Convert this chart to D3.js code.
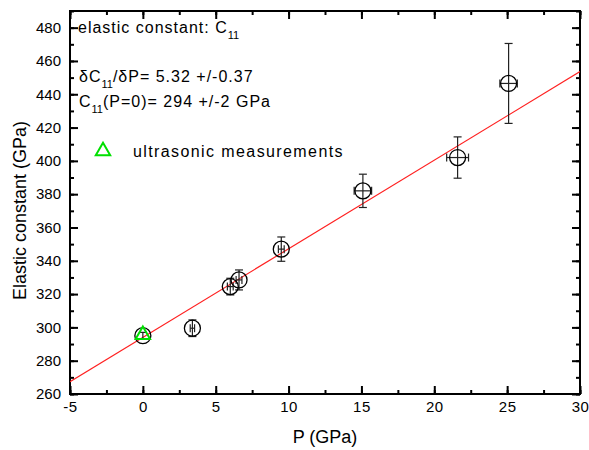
<!DOCTYPE html>
<html>
<head>
<meta charset="utf-8">
<script src="https://cdn.jsdelivr.net/npm/d3@7"></script>
<style>
  body { margin: 0; background: #fff; }
  text { font-family: "Liberation Sans", Arial, sans-serif; fill: #000; }
</style>
</head>
<body>
<script>
// measured points (circles)
const pressure = [0, 3.4, 6.0, 6.6, 9.5, 15.1, 21.6, 25.1];
const c11 = [295, 299.5, 324.5, 328.5, 347, 382, 402, 446.5];
const c11Err = [2, 5, 5, 6, 7.3, 10, 12.4, 24];
const pressureErr = [0, 0.15, 0.2, 0.2, 0.2, 0.6, 0.75, 0.6];
// ultrasonic point (triangle)
const ultraP = [0];
const ultraC = [295];
// linear fit
const fitSlope = 5.32;
const fitIntercept = 294;
const xTicks = [-5, 0, 5, 10, 15, 20, 25, 30];
const yTicks = [260, 280, 300, 320, 340, 360, 380, 400, 420, 440, 460, 480];

const width = 589, height = 450;
const margin = { left: 70, right: 9, top: 11, bottom: 56 };

const svg = d3.select("body").append("svg")
  .attr("width", width)
  .attr("height", height);

const x = d3.scaleLinear().domain([-5, 30]).range([margin.left, width - margin.right]);
const y = d3.scaleLinear().domain([260, 490]).range([height - margin.bottom, margin.top]);

const tickMajor = 8, tickMinor = 4;
const minorX = d3.range(-5, 30.01, 2.5);
const minorY = d3.range(260, 490.01, 10);
const fmt = d => String(d); // plain hyphen for negatives

// axes, ticks pointing inward on all four sides
svg.append("g")
  .attr("transform", `translate(0,${y(260)})`)
  .call(d3.axisBottom(x).tickValues(minorX).tickSize(-tickMinor).tickFormat(""))
  .call(g => g.select(".domain").remove());
svg.append("g")
  .attr("transform", `translate(0,${y(260)})`)
  .call(d3.axisBottom(x).tickValues(xTicks).tickSize(-tickMajor).tickPadding(7).tickFormat(fmt))
  .call(g => g.select(".domain").remove())
  .call(g => g.selectAll("text").attr("font-size", 15).attr("letter-spacing", 0.5));
svg.append("g")
  .attr("transform", `translate(0,${y(490)})`)
  .call(d3.axisTop(x).tickValues(minorX).tickSize(-tickMinor).tickFormat(""))
  .call(g => g.select(".domain").remove());
svg.append("g")
  .attr("transform", `translate(0,${y(490)})`)
  .call(d3.axisTop(x).tickValues(xTicks).tickSize(-tickMajor).tickFormat(""))
  .call(g => g.select(".domain").remove());

svg.append("g")
  .attr("transform", `translate(${x(-5)},0)`)
  .call(d3.axisLeft(y).tickValues(minorY).tickSize(-tickMinor).tickFormat(""))
  .call(g => g.select(".domain").remove());
svg.append("g")
  .attr("transform", `translate(${x(-5)},0)`)
  .call(d3.axisLeft(y).tickValues(yTicks).tickSize(-tickMajor).tickPadding(9).tickFormat(fmt))
  .call(g => g.select(".domain").remove())
  .call(g => g.selectAll("text").attr("font-size", 15));
svg.append("g")
  .attr("transform", `translate(${x(30)},0)`)
  .call(d3.axisRight(y).tickValues(minorY).tickSize(-tickMinor).tickFormat(""))
  .call(g => g.select(".domain").remove());
svg.append("g")
  .attr("transform", `translate(${x(30)},0)`)
  .call(d3.axisRight(y).tickValues(yTicks).tickSize(-tickMajor).tickFormat(""))
  .call(g => g.select(".domain").remove());

svg.selectAll(".tick line").attr("stroke", "#000").attr("stroke-width", 2);

// frame
svg.append("rect")
  .attr("x", x(-5))
  .attr("y", y(490))
  .attr("width", x(30) - x(-5))
  .attr("height", y(260) - y(490))
  .attr("fill", "none")
  .attr("stroke", "#000")
  .attr("stroke-width", 2);

// fit line
svg.append("clipPath").attr("id", "plot")
  .append("rect")
  .attr("x", x(-5)).attr("y", y(490))
  .attr("width", x(30) - x(-5)).attr("height", y(260) - y(490));

svg.append("line")
  .attr("clip-path", "url(#plot)")
  .attr("x1", x(-5))
  .attr("y1", y(fitIntercept + fitSlope * -5))
  .attr("x2", x(30))
  .attr("y2", y(fitIntercept + fitSlope * 30))
  .attr("stroke", "#ff2020")
  .attr("stroke-width", 1.2);

// error bars
const pts = pressure.map((p, i) => ({ p, c: c11[i], ce: c11Err[i], pe: pressureErr[i] }));
const cap = 4;
const err = svg.append("g").attr("stroke", "#222").attr("stroke-width", 1.2);
pts.forEach(d => {
  err.append("line") // vertical
    .attr("x1", x(d.p)).attr("x2", x(d.p))
    .attr("y1", y(d.c - d.ce)).attr("y2", y(d.c + d.ce));
  err.append("line")
    .attr("x1", x(d.p) - cap).attr("x2", x(d.p) + cap)
    .attr("y1", y(d.c - d.ce)).attr("y2", y(d.c - d.ce));
  err.append("line")
    .attr("x1", x(d.p) - cap).attr("x2", x(d.p) + cap)
    .attr("y1", y(d.c + d.ce)).attr("y2", y(d.c + d.ce));
  if (d.pe > 0) {
    err.append("line") // horizontal
      .attr("x1", x(d.p - d.pe)).attr("x2", x(d.p + d.pe))
      .attr("y1", y(d.c)).attr("y2", y(d.c));
    err.append("line")
      .attr("x1", x(d.p - d.pe)).attr("x2", x(d.p - d.pe))
      .attr("y1", y(d.c) - cap).attr("y2", y(d.c) + cap);
    err.append("line")
      .attr("x1", x(d.p + d.pe)).attr("x2", x(d.p + d.pe))
      .attr("y1", y(d.c) - cap).attr("y2", y(d.c) + cap);
  }
});

// circles
svg.append("g").selectAll("circle")
  .data(pts)
  .join("circle")
  .attr("cx", d => x(d.p))
  .attr("cy", d => y(d.c))
  .attr("r", 8)
  .attr("fill", "none")
  .attr("stroke", "#000")
  .attr("stroke-width", 1.3);

// ultrasonic triangle
const tri = d3.symbol().type(d3.symbolTriangle).size(90);
svg.append("g").selectAll("path")
  .data(ultraP.map((p, i) => ({ p, c: ultraC[i] })))
  .join("path")
  .attr("d", tri)
  .attr("transform", d => `translate(${x(d.p)},${y(d.c) - 1})`)
  .attr("fill", "none")
  .attr("stroke", "#00e000")
  .attr("stroke-width", 2);

// annotation text
const note = svg.append("g").attr("font-size", 16).attr("letter-spacing", 1);
const t1 = note.append("text").attr("x", 78).attr("y", 33);
t1.append("tspan").text("elastic constant: C");
t1.append("tspan").attr("dy", 6).attr("font-size", 11).attr("letter-spacing", 0).text("11");

const t2 = note.append("text").attr("x", 79).attr("y", 82);
t2.append("tspan").text("δC");
t2.append("tspan").attr("dy", 6).attr("font-size", 11).attr("letter-spacing", 0).text("11");
t2.append("tspan").attr("dy", -6).text("/δP= 5.32 +/-0.37");

const t3 = note.append("text").attr("x", 79).attr("y", 107);
t3.append("tspan").text("C");
t3.append("tspan").attr("dy", 6).attr("font-size", 11).attr("letter-spacing", 0).text("11");
t3.append("tspan").attr("dy", -6).text("(P=0)= 294 +/-2 GPa");

// legend
svg.append("path")
  .attr("d", tri)
  .attr("transform", "translate(103,151)")
  .attr("fill", "none")
  .attr("stroke", "#00e000")
  .attr("stroke-width", 2);
note.append("text").attr("x", 133).attr("y", 157)
  .attr("letter-spacing", 1.4)
  .text("ultrasonic measurements");

// axis titles
svg.append("text")
  .attr("x", (x(-5) + x(30)) / 2)
  .attr("y", 443)
  .attr("text-anchor", "middle")
  .attr("font-size", 18)
  .text("P (GPa)");
svg.append("text")
  .attr("transform", `translate(26,${(y(260) + y(490)) / 2 + 8}) rotate(-90)`)
  .attr("text-anchor", "middle")
  .attr("font-size", 18)
  .text("Elastic constant (GPa)");
</script>
</body>
</html>
